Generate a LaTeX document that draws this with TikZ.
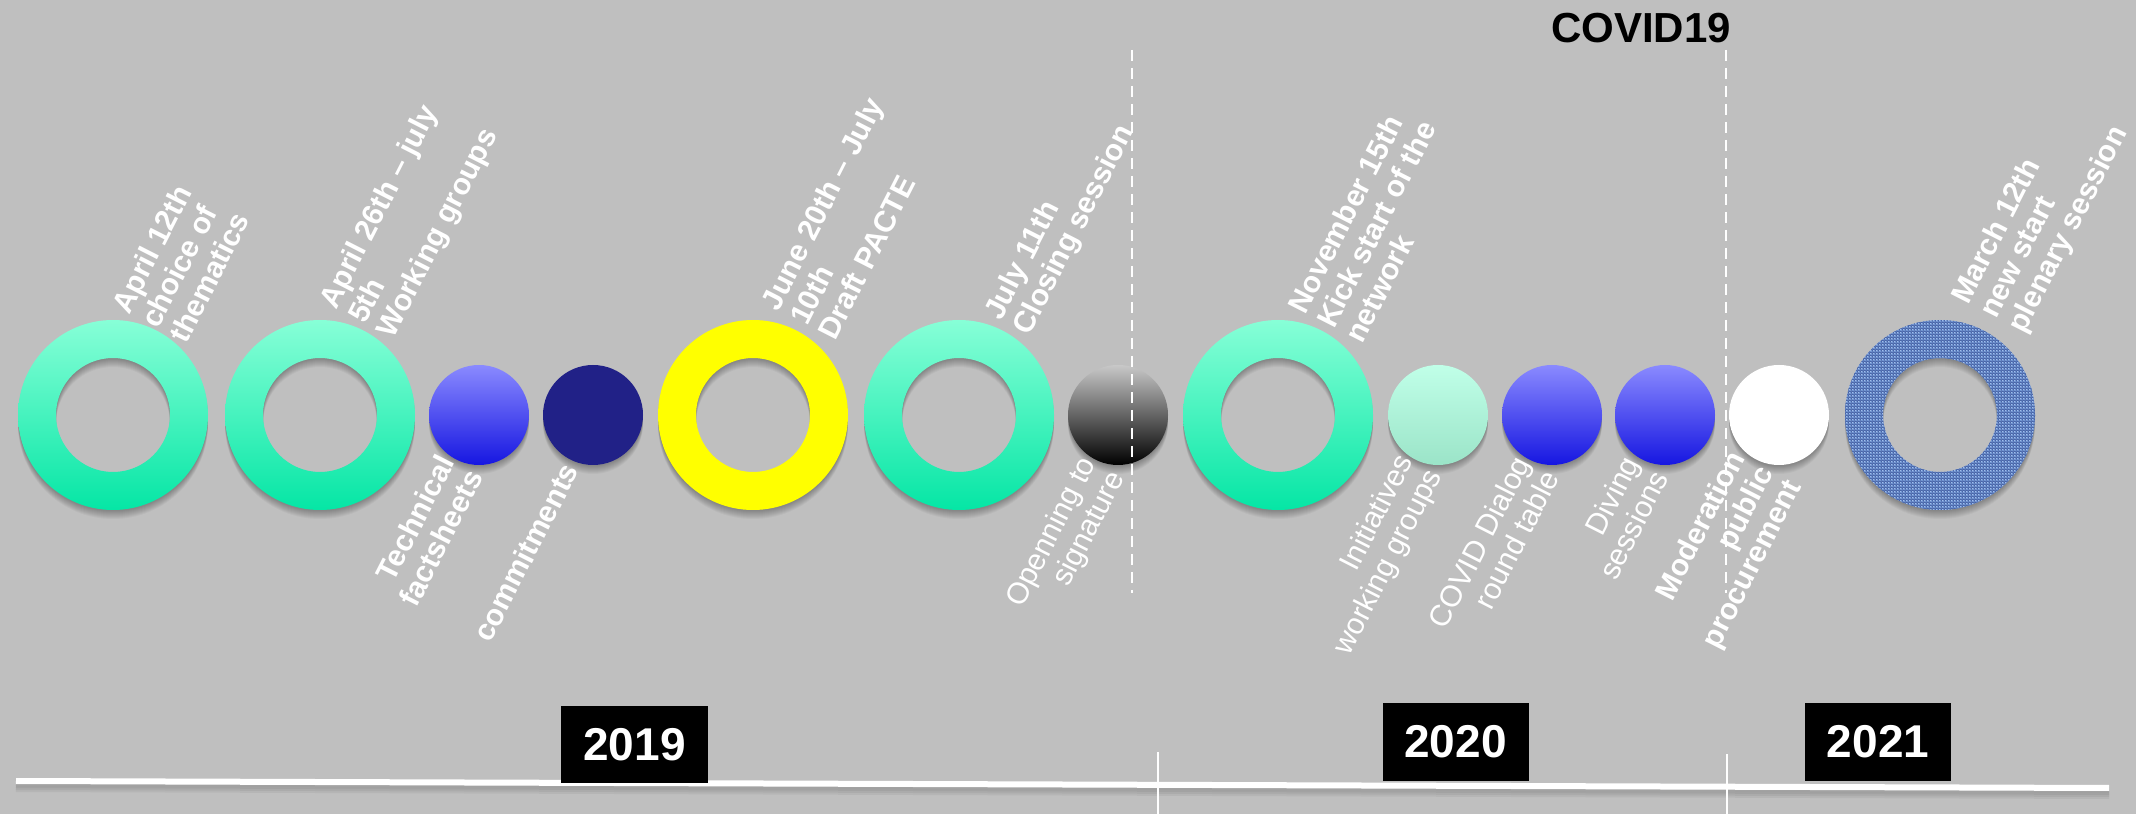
\documentclass[tikz,border=0pt]{standalone}
\usepackage{fontspec}
\setmainfont{Liberation Sans}
\usetikzlibrary{patterns}
\definecolor{bg}{RGB}{191,191,191}
\definecolor{aquaT}{RGB}{135,255,215}
\definecolor{aquaB}{RGB}{5,230,165}
\definecolor{blueT}{RGB}{138,138,255}
\definecolor{blueB}{RGB}{22,22,225}
\definecolor{navyc}{RGB}{33,33,135}
\definecolor{mintT}{RGB}{192,255,232}
\definecolor{mintB}{RGB}{155,228,200}
\definecolor{grayT}{RGB}{200,200,200}
\definecolor{yel}{RGB}{255,255,0}
\definecolor{denim}{RGB}{112,148,210}
\definecolor{denimD}{RGB}{70,100,168}
\definecolor{denimL}{RGB}{175,200,240}
\newcommand\labfont{\fontsize{30}{31}\selectfont}
\newcommand\discshadow[2]{\foreach \dy in {1,...,9}{\fill[black,opacity=0.035] ([yshift=-\dy pt]#1) circle (#2);}}
\newcommand\ringshadow[1]{\foreach \dy in {1,...,9}{\fill[black,opacity=0.035,even odd rule] ([yshift=-\dy pt]#1) circle (95) ([yshift=-\dy pt]#1) circle (57);}}
\begin{document}
\begin{tikzpicture}[x=1pt,y=1pt,
  lab/.style={text=white, rotate=63, inner sep=0pt},
  uplab/.style={lab, anchor=south west, align=left, font=\labfont\bfseries},
  dnlab/.style={lab, anchor=north east, align=right, font=\labfont\bfseries},
  dnlabr/.style={lab, anchor=north east, align=right, font=\labfont},
  yearbox/.style={fill=black, text=white, inner sep=0pt, font=\fontsize{46}{46}\selectfont\bfseries, minimum width=146, minimum height=78},
  sep/.style={white, line width=2.5pt, dash pattern=on 11pt off 7pt},
  tick/.style={white, line width=2pt}
]
\useasboundingbox (0,0) rectangle (2136,814);
\fill[bg] (0,0) rectangle (2136,814);

% centres
\coordinate (c1) at (113,399);
\coordinate (c2) at (320,399);
\coordinate (c3) at (479,399);
\coordinate (c4) at (593,399);
\coordinate (c5) at (753,399);
\coordinate (c6) at (959,399);
\coordinate (c7) at (1118,399);
\coordinate (c8) at (1278,399);
\coordinate (c9) at (1438,399);
\coordinate (c10) at (1552,399);
\coordinate (c11) at (1665,399);
\coordinate (c12) at (1779,399);
\coordinate (c13) at (1940,399);

% shadows
\ringshadow{c1}\ringshadow{c2}\ringshadow{c5}\ringshadow{c6}\ringshadow{c8}\ringshadow{c13}
\discshadow{c3}{50}\discshadow{c4}{50}\discshadow{c7}{50}\discshadow{c9}{50}
\discshadow{c10}{50}\discshadow{c11}{50}\discshadow{c12}{50}

% rings
\foreach \c in {c1,c2,c6,c8}{
  \shade[top color=aquaT, bottom color=aquaB, even odd rule] (\c) circle (95) (\c) circle (57);
}
\fill[yel, even odd rule] (c5) circle (95) (c5) circle (57);
\fill[denim, even odd rule] (c13) circle (95) (c13) circle (57);
\fill[pattern=grid, pattern color=denimD, even odd rule] (c13) circle (95) (c13) circle (57);
\fill[pattern=crosshatch dots, pattern color=denimL, even odd rule] (c13) circle (95) (c13) circle (57);

% discs
\shade[top color=blueT, bottom color=blueB] (c3) circle (50);
\fill[navyc] (c4) circle (50);
\shade[top color=grayT, bottom color=black] (c7) circle (50);
\shade[top color=mintT, bottom color=mintB] (c9) circle (50);
\shade[top color=blueT, bottom color=blueB] (c10) circle (50);
\shade[top color=blueT, bottom color=blueB] (c11) circle (50);
\fill[white] (c12) circle (50);

% dashed separators
\coordinate (s1t) at (1132,764);
\coordinate (s1b) at (1132,221);
\coordinate (s2t) at (1726,764);
\coordinate (s2b) at (1726,221);
\draw[sep] (s1t) -- (s1b);
\draw[sep] (s2t) -- (s2b);

\node[anchor=base, font=\fontsize{42}{42}\selectfont\bfseries, text=black, inner sep=0pt] (covid) at (1641,771) {COVID19};

% labels above
\node[uplab] (l1) at (195,465) {April 12th\strut\\choice of\strut\\thematics\strut};
\node[uplab] (l2) at (402,470) {April 26th – july\strut\\5th\strut\\Working groups\strut};
\node[uplab] (l3) at (844,468) {June 20th – July\strut\\10th\strut\\Draft PACTE\strut};
\node[uplab] (l4) at (1038,473) {July 11th\strut\\Closing session\strut};
\node[uplab] (l5) at (1371,465) {November 15th\strut\\Kick start of the\strut\\network\strut};
\node[uplab] (l6) at (2033,475) {March 12th\strut\\new start\strut\\plenary session\strut};

% labels below
\node[dnlab] (l7) at (436,362) {Technical\strut\\factsheets\strut};
\node[dnlab] (l8) at (560,354) {commitments\strut};
\node[dnlabr] (l9) at (1077,361) {Openning to\strut\\signature\strut};
\node[dnlabr] (l10) at (1394,363) {Initiatives\strut\\working groups\strut};
\node[dnlabr] (l11) at (1512,361) {COVID Dialog\strut\\round table\strut};
\node[dnlabr] (l12) at (1621,361) {Diving\strut\\sessions\strut};
\node[dnlab] (l13) at (1726,366) {Moderation\strut\\public\strut\\procurement\strut};

% timeline
\coordinate (t1) at (16,33);
\coordinate (t2) at (2109,26);
\foreach \dy in {2,4,6,8}{\draw[black, opacity=0.05, line width=6pt] ([yshift=-\dy pt]t1) -- ([yshift=-\dy pt]t2);}
\draw[white, line width=6pt] (t1) -- (t2);
\coordinate (k1t) at (1158,62);
\coordinate (k1b) at (1158,0);
\coordinate (k2t) at (1727,60);
\coordinate (k2b) at (1727,0);
\draw[tick] (k1t) -- (k1b);
\draw[tick] (k2t) -- (k2b);

% year boxes
\node[yearbox, minimum width=147, minimum height=77] (y19) at (634.5,69.5) {2019};
\node[yearbox] (y20) at (1455.5,72) {2020};
\node[yearbox] (y21) at (1878,72) {2021};
\end{tikzpicture}
\end{document}
